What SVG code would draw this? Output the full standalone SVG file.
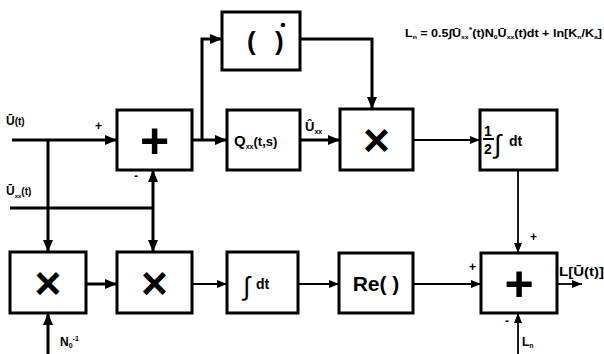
<svg xmlns="http://www.w3.org/2000/svg" width="604" height="354" viewBox="0 0 604 354">
<defs>
<style>
.box{fill:#fff;stroke:#000;stroke-width:3}
.thick{fill:none;stroke:#000;stroke-width:3}
.thin{fill:none;stroke:#000;stroke-width:1.8}
text{font-family:"Liberation Sans",Arial,sans-serif;font-weight:bold;fill:#000}
.op{font-size:50px;text-anchor:middle}
.mul{font-size:46px;font-weight:bold;text-anchor:middle}
.lbl{font-size:12px}
.sm{font-size:10px}
.int{font-size:26px;font-weight:normal}
</style>
<marker id="ah" viewBox="0 0 12 10" refX="12" refY="5" markerWidth="12" markerHeight="10" markerUnits="userSpaceOnUse" orient="auto"><path d="M0,0L12,5L0,10Z" fill="#000"/></marker>
<marker id="as" viewBox="0 0 10 8" refX="10" refY="4" markerWidth="10" markerHeight="8" markerUnits="userSpaceOnUse" orient="auto"><path d="M0,0L10,4L0,8Z" fill="#000"/></marker>
</defs>
<rect width="604" height="354" fill="#fff"/>

<g id="connectors">
<path class="thick" d="M12,140H117" marker-end="url(#ah)"/>
<path class="thick" d="M48,140V252" marker-end="url(#ah)"/>
<path class="thick" d="M192,140H227" marker-end="url(#ah)"/>
<path class="thick" d="M202,140V39H222" marker-end="url(#ah)"/>
<path class="thick" d="M300,140H340" marker-end="url(#ah)"/>
<path class="thick" d="M300,39H372V109" marker-end="url(#ah)"/>
<path class="thin" d="M413,140H480" marker-end="url(#as)"/>
<path class="thick" d="M10,208H153"/>
<path class="thick" d="M153,208V170" marker-end="url(#ah)"/>
<path class="thick" d="M153,208V252" marker-end="url(#ah)"/>
<path class="thick" d="M86,284H117" marker-end="url(#ah)"/>
<path class="thin" d="M192,284H227" marker-end="url(#as)"/>
<path class="thin" d="M298,284H339" marker-end="url(#as)"/>
<path class="thin" d="M413,284H481" marker-end="url(#as)"/>
<path class="thin" d="M518,170V253" marker-end="url(#as)"/>
<path class="thin" d="M557,284H582" marker-end="url(#as)"/>
<path class="thin" d="M518,354V313" marker-end="url(#as)"/>
<path class="thick" d="M48,354V313" marker-end="url(#ah)"/>
</g>

<g id="sum1"><rect class="box" x="117" y="110" width="75" height="60"/><text class="op" x="154.5" y="158">+</text></g>
<g id="conj"><rect class="box" x="222" y="12" width="78" height="58"/><text x="247" y="50" style="font-size:26px">(</text><text x="275" y="50" style="font-size:26px">)</text><circle cx="283" cy="25" r="2.3" fill="#000"/></g>
<g id="qxx"><rect class="box" x="227" y="110" width="73" height="60"/><text x="234" y="146" style="font-size:15px">Q<tspan dy="3" style="font-size:7px">xx</tspan><tspan dy="-3" style="font-size:13px">(t,s)</tspan></text></g>
<g id="mul1"><rect class="box" x="340" y="109" width="73" height="61"/><text class="mul" x="376.5" y="156">×</text></g>
<g id="halfint"><rect class="box" x="480" y="110" width="77" height="60"/>
<text x="484" y="136" style="font-size:14px">1</text><path d="M483,139H494" stroke="#000" stroke-width="2"/><text x="484" y="154" style="font-size:14px">2</text>
<text x="494" y="153" class="int">∫</text><text x="509" y="146" style="font-size:14px">dt</text></g>
<g id="mul2"><rect class="box" x="10" y="252" width="76" height="61"/><text class="mul" x="48" y="299">×</text></g>
<g id="mul3"><rect class="box" x="117" y="252" width="75" height="61"/><text class="mul" x="154.5" y="299">×</text></g>
<g id="int"><rect class="box" x="227" y="252" width="71" height="61"/><text x="243" y="295" class="int">∫</text><text x="256" y="289" style="font-size:14px">dt</text></g>
<g id="re"><rect class="box" x="339" y="253" width="74" height="60"/><text x="376" y="291" style="font-size:21px;text-anchor:middle">Re( )</text></g>
<g id="sum2"><rect class="box" x="481" y="253" width="76" height="60"/><text class="op" x="519" y="301">+</text></g>

<g id="labels">
<text class="lbl" x="6" y="125">Ū<tspan class="sm">(t)</tspan></text>
<text class="lbl" x="95" y="130">+</text>
<text class="lbl" x="134" y="180">-</text>
<text class="lbl" x="6" y="195">Ū<tspan dy="3" style="font-size:6px">xx</tspan><tspan dy="-3" class="sm">(t)</tspan></text>
<text class="lbl" x="305" y="131" style="font-size:13px">Û<tspan dy="3" style="font-size:7px">xx</tspan></text>
<text class="lbl" x="60" y="346">N<tspan dy="2" style="font-size:7px">0</tspan><tspan dy="-7" style="font-size:7px">-1</tspan></text>
<text class="lbl" x="530" y="241">+</text>
<text class="lbl" x="469" y="271">+</text>
<text class="lbl" x="505" y="325">-</text>
<text class="lbl" x="522" y="346">L<tspan dy="2" style="font-size:7px">n</tspan></text>
<text x="559" y="276" style="font-size:13px" textLength="45" lengthAdjust="spacingAndGlyphs">L[Ū(t)]</text>
<text x="405" y="37" style="font-size:11px" textLength="197" lengthAdjust="spacingAndGlyphs">L<tspan dy="2" style="font-size:6px">n</tspan><tspan dy="-2"> = 0.5∫Ū</tspan><tspan dy="2" style="font-size:6px">xx</tspan><tspan dy="-7" style="font-size:8px">*</tspan><tspan dy="5">(t)N</tspan><tspan dy="2" style="font-size:6px">0</tspan><tspan dy="-2">Ū</tspan><tspan dy="2" style="font-size:6px">xx</tspan><tspan dy="-2">(t)dt + ln[K</tspan><tspan dy="2" style="font-size:6px">n</tspan><tspan dy="-2">/K</tspan><tspan dy="2" style="font-size:6px">a</tspan><tspan dy="-2">]</tspan></text>
</g>
</svg>
